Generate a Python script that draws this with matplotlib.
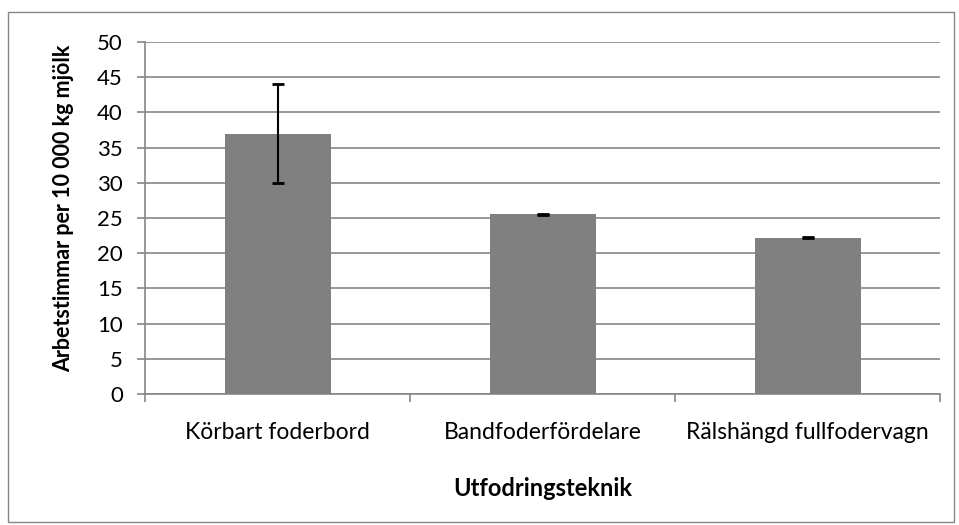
import matplotlib.pyplot as plt
import numpy as np
from matplotlib.patches import Rectangle

plt.rcParams['font.family'] = ['Lato', 'DejaVu Sans']

categories = ['Körbart foderbord', 'Bandfoderfördelare', 'Rälshängd fullfodervagn']
values = [37.0, 25.5, 22.2]
errors = [7.0, 0.05, 0.05]
yticks = [0, 5, 10, 15, 20, 25, 30, 35, 40, 45, 50]

fig = plt.figure(figsize=(9.59, 5.25), dpi=100)
ax = fig.add_axes([145 / 959, 1 - 394 / 525, 795 / 959, 352 / 525])

# outer chart border
fig.patches.append(Rectangle((8 / 959, 3 / 525), 946 / 959, 510 / 525,
                             transform=fig.transFigure, fill=False,
                             edgecolor='#868686', linewidth=1.0))

x = np.arange(len(categories))
ax.bar(x, values, width=0.4, color='#808080', zorder=3)
ax.errorbar(x, values, yerr=errors, fmt='none', ecolor='black',
            elinewidth=1.5, capsize=4.5, capthick=2, zorder=4)

ax.set_xlim(-0.5, len(categories) - 0.5)
ax.set_ylim(0, 50)
ax.set_yticks(yticks)
ax.yaxis.grid(True, color='#868686', linewidth=1.2, zorder=0)
ax.set_axisbelow(True)

ax.set_xticks(x)
ax.set_xticklabels(categories)
ax.tick_params(axis='x', length=0, pad=20, labelsize=16.5)
ax.set_xticks(np.arange(-0.5, len(categories)), minor=True)
ax.tick_params(axis='x', which='minor', length=6, color='#868686', width=1.2, direction='out')
ax.tick_params(axis='y', length=6, color='#868686', width=1.2, labelsize=16, pad=10)

for s in ['top', 'right']:
    ax.spines[s].set_visible(False)
for s in ['left', 'bottom']:
    ax.spines[s].set_color('#868686')
    ax.spines[s].set_linewidth(1.2)

ax.set_ylabel('Arbetstimmar per 10 000 kg mjölk', fontsize=15.5, fontweight='bold')
ax.yaxis.set_label_coords((64 - 145) / 795, (394 - 208) / 352)
ax.yaxis.label.set_va('center')
ax.set_xlabel('Utfodringsteknik', fontsize=17, fontweight='bold')
ax.xaxis.set_label_coords(0.5, (394 - 489) / 352)
ax.xaxis.label.set_va('center')

fig.savefig('out.png', dpi=100)
